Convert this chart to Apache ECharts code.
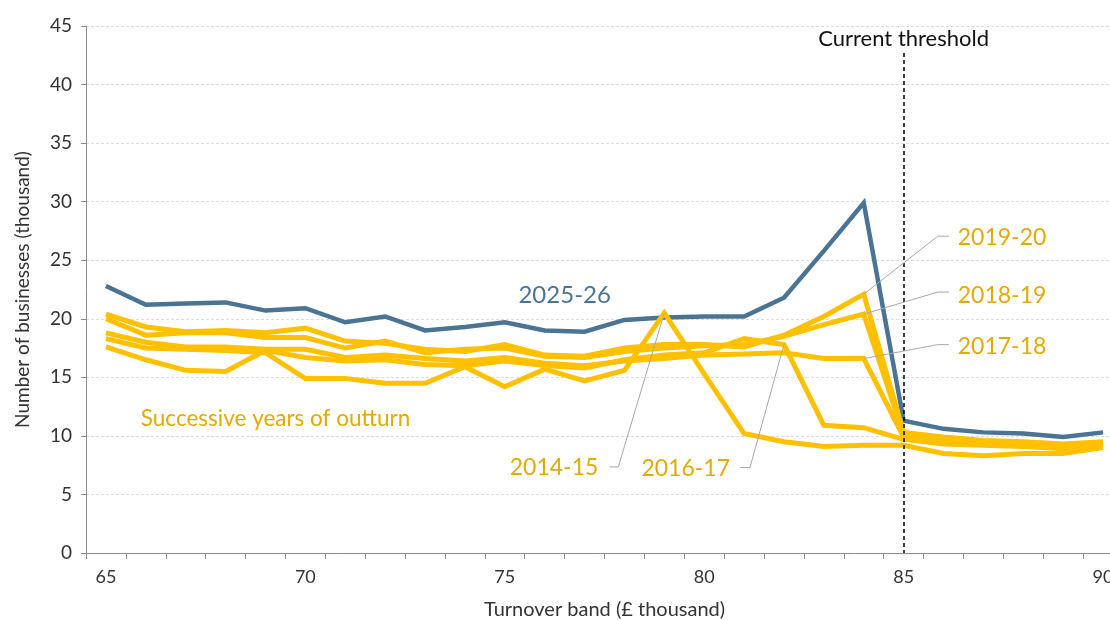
<!DOCTYPE html>
<html><head><meta charset="utf-8">
<script src="https://cdn.jsdelivr.net/npm/echarts@6/dist/echarts.min.js"></script>
<style>html,body{margin:0;padding:0;background:#fff}#c{width:1110px;height:620px}</style>
</head><body><div id="c"></div>
<script>
// ---- data ----
const categories = ['65','66','67','68','69','70','71','72','73','74','75','76','77','78','79','80','81','82','83','84','85','86','87','88','89','90'];
const tickLabels = ['65','70','75','80','85','90'];
const s2025_26 = [22.8,21.2,21.3,21.4,20.7,20.9,19.7,20.2,19.0,19.3,19.7,19.0,18.9,19.9,20.1,20.2,20.2,21.8,25.8,29.9,11.3,10.6,10.3,10.2,9.9,10.3];
const s2019_20 = [20.4,19.3,18.9,19.0,18.8,19.2,18.1,17.9,17.4,17.2,17.8,16.9,16.8,17.5,17.8,17.8,17.6,18.6,20.2,22.1,10.3,9.9,9.6,9.5,9.3,9.5];
const s2018_19 = [20.0,18.6,18.8,18.8,18.4,18.4,17.5,18.1,17.1,17.4,17.5,16.8,16.7,17.2,17.5,17.7,17.8,18.5,19.5,20.4,10.1,9.7,9.5,9.4,9.2,9.4];
const s2017_18 = [18.8,18.0,17.6,17.6,17.4,17.4,16.7,16.9,16.6,16.4,16.7,16.2,16.0,16.4,16.6,16.9,17.0,17.1,16.6,16.6,9.9,9.5,9.3,9.2,9.0,9.3];
const s2016_17 = [17.6,16.5,15.6,15.5,17.3,16.7,16.4,16.5,16.1,16.0,16.4,16.0,15.8,16.5,16.9,17.1,18.3,17.8,10.9,10.7,9.7,9.3,9.2,9.1,8.9,9.2];
const s2014_15 = [18.3,17.5,17.4,17.3,17.1,14.9,14.9,14.5,14.5,15.9,14.2,15.7,14.7,15.6,20.5,15.3,10.2,9.5,9.1,9.2,9.2,8.5,8.3,8.5,8.5,9.0];
const thresholdBand = '85';
const thresholdText = 'Current threshold';
const outturnText = 'Successive years of outturn';
const yTitle = 'Number of businesses (thousand)';
const xTitle = 'Turnover band (£ thousand)';

// ---- styles ----
const BLUE = '#4a7394', YELLOW = '#ffc000', GOLD = '#e3aa00';
const FONT = 'Lato, "Noto Sans", sans-serif';

const chart = echarts.init(document.getElementById('c'), null, {renderer:'canvas'});
const yellowSeries = [
  ['2014-15', s2014_15], ['2016-17', s2016_17], ['2017-18', s2017_18],
  ['2018-19', s2018_19], ['2019-20', s2019_20]
].map(([n, d]) => ({
  name: n, type: 'line', data: d, symbol: 'none', silent: true,
  lineStyle: {color: YELLOW, width: 5, join: 'miter'}, z: 3
}));

chart.setOption({
  animation: false,
  textStyle: {fontFamily: FONT},
  grid: {left: 86, top: 26, width: 1037, height: 527, containLabel: false, outerBoundsMode: 'none'},
  xAxis: {
    type: 'category', data: categories, boundaryGap: true,
    name: xTitle, nameLocation: 'middle', nameGap: 47,
    nameTextStyle: {fontSize: 20, color: '#333', fontFamily: FONT},
    axisLine: {lineStyle: {color: '#8c8c8c', width: 1}},
    axisTick: {show: true, interval: 0, length: 6, lineStyle: {color: '#8c8c8c'}},
    axisLabel: {interval: (i, v) => tickLabels.includes(v), fontSize: 18, color: '#333', margin: 15, fontFamily: FONT},
    splitLine: {show: false}
  },
  yAxis: {
    type: 'value', min: 0, max: 45, interval: 5,
    name: yTitle, nameLocation: 'middle', nameGap: 54,
    nameTextStyle: {fontSize: 19, color: '#333', fontFamily: FONT},
    axisLine: {show: true, lineStyle: {color: '#8c8c8c', width: 1}},
    axisTick: {show: true, length: 5, lineStyle: {color: '#8c8c8c'}},
    axisLabel: {fontSize: 19, color: '#333', margin: 14, fontFamily: FONT},
    splitLine: {show: true, lineStyle: {color: '#dcdcdc', type: [3, 2], width: 1}}
  },
  series: [
    {
      name: '2025-26', type: 'line', data: s2025_26, symbol: 'none', silent: true,
      lineStyle: {color: BLUE, width: 4.5, join: 'miter'}, z: 2,
      markLine: {
        silent: true, symbol: 'none', animation: false,
        lineStyle: {color: '#000', type: [4, 3], width: 1.5},
        label: {show: true, position: 'start', formatter: thresholdText, fontSize: 22, color: '#111', distance: 3, fontFamily: FONT},
        data: [[{coord: [thresholdBand, 42.7]}, {coord: [thresholdBand, 0]}]]
      }
    },
    ...yellowSeries
  ]
});

// ---- annotations anchored to data points ----
const px = (i, v) => chart.convertToPixel({gridIndex: 0}, [i, v]);
const idx = c => categories.indexOf(c);
const notes = [
  {text: '2019-20', data: s2019_20, cat: '84', elbow: [74, -58], end: [85, -58], pos: [94, -57], align: 'left'},
  {text: '2018-19', data: s2018_19, cat: '84', elbow: [74, -22], end: [85, -22], pos: [94, -19], align: 'left'},
  {text: '2017-18', data: s2017_18, cat: '84', elbow: [74, -14], end: [85, -14], pos: [94, -12], align: 'left'},
  {text: '2014-15', data: s2014_15, cat: '79', elbow: [-46, 154], end: [-55, 154], pos: [-66, 155], align: 'right'},
  {text: '2016-17', data: s2016_17, cat: '82', elbow: [-34, 123], end: [-44, 123], pos: [-54, 124], align: 'right'}
];
const graphics = [];
notes.forEach(n => {
  const i = idx(n.cat);
  const a = px(i, n.data[i]);
  graphics.push({
    type: 'polyline', silent: true, z: 10,
    shape: {points: [a, [a[0] + n.elbow[0], a[1] + n.elbow[1]], [a[0] + n.end[0], a[1] + n.end[1]]]},
    style: {stroke: '#a8a8a8', lineWidth: 1, fill: null}
  });
  graphics.push({
    type: 'text', silent: true, z: 10,
    x: a[0] + n.pos[0], y: a[1] + n.pos[1],
    style: {text: n.text, fill: GOLD, font: '23px ' + FONT, textAlign: n.align, textVerticalAlign: 'middle'}
  });
});
{
  const i = idx('76');
  const a = px(i, s2025_26[i]);
  graphics.push({type: 'text', silent: true, z: 10, x: a[0] + 20, y: a[1] - 35,
    style: {text: '2025-26', fill: BLUE, font: '24px ' + FONT, textAlign: 'center', textVerticalAlign: 'middle'}});
}
{
  const a = px(idx('66'), 11.5);
  graphics.push({type: 'text', silent: true, z: 10, x: a[0] - 5, y: a[1],
    style: {text: outturnText, fill: GOLD, font: '22.5px ' + FONT, textAlign: 'left', textVerticalAlign: 'middle'}});
}
chart.setOption({graphic: graphics});
</script>
</body></html>
